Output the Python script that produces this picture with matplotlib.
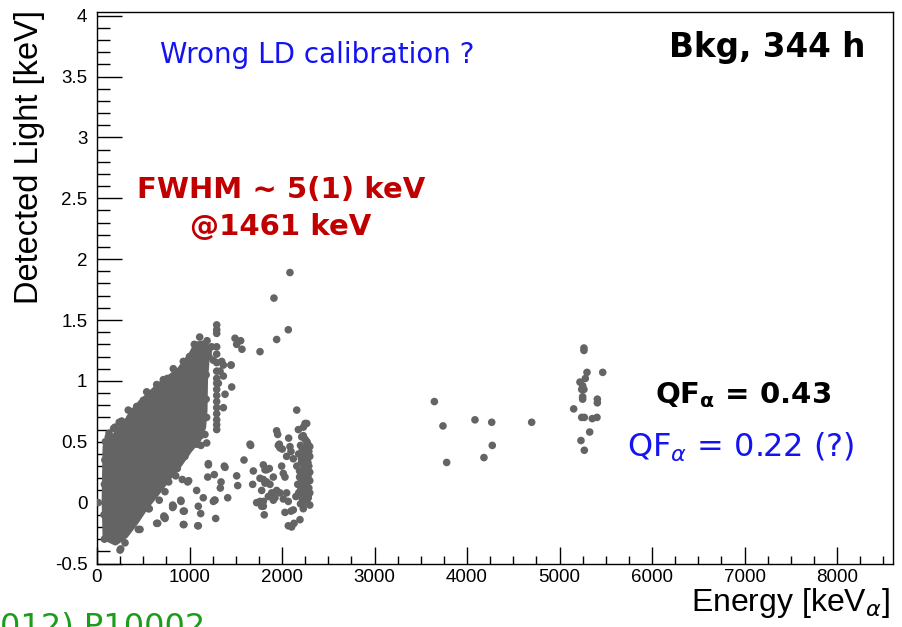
import numpy as np
import matplotlib
matplotlib.use("Agg")
import matplotlib.pyplot as plt
from matplotlib.ticker import MultipleLocator

# Диапазоны осей
X_RANGE = (0, 8605)
Y_RANGE = (-0.5, 4.03)
X_TICKS = [0, 1000, 2000, 3000, 4000, 5000, 6000, 7000, 8000]
Y_TICKS = [-0.5, 0, 0.5, 1, 1.5, 2, 2.5, 3, 3.5, 4]
Y_TICKLABELS = ["-0.5", "0", "0.5", "1", "1.5", "2", "2.5", "3", "3.5", "4"]

# Контур плотной области (beta/gamma), keV
blob_energy = [90, 80, 90, 170, 310, 470, 680, 890, 1020, 1075, 1150, 1200, 1185,
               1170, 1165, 1150, 1100, 1000, 890, 770, 630, 525, 420, 310, 200]
blob_light = [-0.29, 0.02, 0.46, 0.53, 0.66, 0.82, 0.97, 1.09, 1.22, 1.30, 1.31, 1.27, 1.15,
              1.00, 0.76, 0.62, 0.52, 0.43, 0.31, 0.20, 0.06, -0.04, -0.16, -0.27, -0.33]

# Отдельные события: край плотной области
edge_energy = [933, 1052, 1059, 1167, 1240, 1204, 825, 717, 645, 537, 501, 429, 338, 357,
               267, 195, 122, 994, 249, 303, 141, 447, 357, 555, 645, 735, 735, 825, 908,
               933, 933, 1089, 1077, 1149, 1268, 1283, 1204, 1197, 1268, 1341, 1333, 1376,
               843, 851, 922, 980, 753, 735, 951, 1059, 1124, 1167, 1186, 537, 14, 256,
               465, 656, 724, 724, 818, 818, 905, 940, 944, 1095, 1095, 1121, 565, 673,
               775, 868, 746, 775, 991, 1413, 1258, 1276,
               80, 75, 80, 85, 90, 130, 180, 240, 390, 600, 760, 1000, 1110, 1190, 1210,
               1180, 1180, 1185, 1120, 1080]
edge_light = [1.16, 1.30, 1.25, 1.29, 1.28, 1.24, 1.10, 1.01, 0.97, 0.91, 0.84, 0.79, 0.76, 0.70,
              0.67, 0.62, 0.54, 1.12, -0.39, -0.33, -0.29, -0.22, -0.14, -0.05, -0.17, -0.12, -0.13,
              -0.03, 0.01, -0.07, -0.18, -0.19, 0.10, 0.04, 0.02, -0.13, 0.32, 0.21, 0.23, 0.17,
              0.12, 0.30, 0.28, 0.22, 0.19, 0.17, 0.19, 0.09, 0.38, 0.54, 0.47, 0.56, 0.49, -0.02,
              0.00, -0.38, -0.22, -0.17, -0.11, -0.12, -0.02, -0.04, 0.02, -0.18, -0.07, -0.03,
              -0.19, -0.09, -0.05, 0.02, 0.27, 0.28, 0.21, 0.17, 0.18, 0.04, 0.01, 0.02,
              -0.30, -0.10, 0.15, 0.35, 0.50, 0.57, 0.61, 0.66, 0.75, 0.88, 1.02, 1.20, 1.36,
              1.33, 1.20, 1.05, 0.85, 0.70, 0.55, 0.48]

# Линия 1461 keV и точки вокруг неё
k40_energy = [1294, 1294, 1294, 1294, 1294, 1294, 1294, 1294, 1294, 1294, 1294, 1294, 1294,
              1294, 1294, 1294, 1294, 1257, 1348, 1366, 1449, 1330, 1366, 1312, 1456, 1384,
              1366, 1492, 1553, 1510, 1567, 1762, 1913, 2086, 2068, 1942, 1654, 1589, 1204,
              1384, 1449]
k40_light = [1.46, 1.42, 1.39, 1.28, 1.22, 1.15, 1.08, 1.02, 0.98, 0.93, 0.88, 0.83, 0.78,
             0.73, 0.68, 0.64, 0.60, 1.17, 1.16, 1.13, 1.13, 1.08, 1.04, 0.98, 0.95, 0.89,
             0.78, 1.35, 1.33, 1.30, 1.26, 1.24, 1.68, 1.89, 1.42, 1.34, 0.48, 0.35, 0.31,
             0.29, 1.13]

# Группа 1700-2300 keV
mid_energy = [2159, 2267, 2231, 2177, 2213, 1953, 2072, 1661, 1971, 2003, 2086, 2097, 1798,
              1816, 1863, 1906, 1798, 1870, 1780, 1996, 2014, 2032, 1888, 1924, 1978, 2050,
              2068, 1726, 1798, 1780, 2032, 1808, 2097, 2122, 2194, 2068, 2104, 2130, 1942,
              2249, 1960, 1978, 2050, 2122, 1834, 1762, 1834, 1816, 1942, 1852, 2014, 1762,
              1798, 1906, 2284, 1510, 1521, 1690, 1683,
              2230, 2270, 2200, 2250, 2290, 2180, 2230, 2270, 2210, 2290, 2250, 2190, 2230,
              2280, 2210, 2260, 2240, 2290, 2200, 2250, 2280, 2220, 2260, 2300, 2230, 2170,
              2160, 2300, 2300, 2150, 2270, 2220, 2240,
              2250, 2280, 2240, 2270, 2250, 2280, 2240, 2270, 2250, 2280, 2240, 2270, 2250,
              2280, 2240, 2270, 2300, 2300, 2300, 2210, 2210, 2190, 2180, 2200]
mid_light = [0.76, 0.65, 0.62, 0.60, 0.54, 0.56, 0.53, 0.47, 0.48, 0.44, 0.46, 0.42, 0.31,
             0.27, 0.28, 0.21, 0.19, 0.15, 0.10, 0.30, 0.24, 0.21, 0.08, 0.04, 0.08, 0.08,
             0.01, 0.00, 0.01, -0.03, -0.08, -0.10, -0.07, -0.06, -0.14, -0.19, -0.20, -0.17,
             0.59, 0.65, 0.47, 0.45, 0.38, 0.36, 0.27, 0.20, 0.17, 0.16, 0.10, 0.05, 0.03,
             0.01, -0.03, 0.02, 0.04, 0.22, 0.14, 0.26, 0.15,
             0.55, 0.50, 0.47, 0.45, 0.42, 0.40, 0.38, 0.36, 0.33, 0.30, 0.28, 0.26, 0.24,
             0.22, 0.19, 0.17, 0.14, 0.12, 0.10, 0.08, 0.05, 0.03, 0.00, -0.02, -0.05, 0.15,
             0.30, 0.25, 0.38, 0.05, 0.30, 0.44, 0.20,
             0.52, 0.48, 0.41, 0.39, 0.35, 0.33, 0.29, 0.27, 0.23, 0.20, 0.17, 0.13, 0.11,
             0.09, 0.06, 0.02, 0.18, 0.08, 0.46, 0.12, 0.36, 0.21, 0.08, -0.01]

# Альфа-события
alpha_energy = [3647, 3740, 3780, 4086, 4267, 4273, 4183, 4699, 5264, 5264, 5297, 5467,
                5221, 5279, 5250, 5264, 5240, 5250, 5250, 5409, 5409, 5153, 5240, 5268,
                5354, 5405, 5326, 5232, 5268]
alpha_light = [0.83, 0.63, 0.33, 0.68, 0.66, 0.47, 0.37, 0.66, 1.27, 1.25, 1.07, 1.07,
               0.99, 1.02, 0.96, 0.93, 0.93, 0.87, 0.85, 0.85, 0.82, 0.77, 0.70, 0.70,
               0.69, 0.70, 0.58, 0.51, 0.43]

GRAY = "#646464"
BLUE = "#1414f0"


def main():
    fig = plt.figure(figsize=(9.03, 6.27), dpi=100)
    ax = fig.add_axes([97 / 903, 1 - 563.5 / 627, 796 / 903, 551.5 / 627])

    ax.fill(blob_energy, blob_light, facecolor=GRAY, edgecolor=GRAY, lw=4,
            joinstyle="round", zorder=2)
    for ex, ly in [(edge_energy, edge_light), (k40_energy, k40_light),
                   (mid_energy, mid_light), (alpha_energy, alpha_light)]:
        ax.scatter(ex, ly, s=30, color=GRAY, edgecolors="none", zorder=3)

    ax.set_xlim(*X_RANGE)
    ax.set_ylim(*Y_RANGE)
    ax.set_xticks(X_TICKS)
    ax.set_yticks(Y_TICKS)
    ax.set_yticklabels(Y_TICKLABELS)
    ax.xaxis.set_minor_locator(MultipleLocator(250))
    ax.yaxis.set_minor_locator(MultipleLocator(0.1))
    ax.tick_params(axis="both", which="both", direction="in", labelsize=13.5, width=1,
                   top=False, right=False)
    ax.tick_params(axis="y", which="major", length=18, pad=7)
    ax.tick_params(axis="y", which="minor", length=9)
    ax.tick_params(axis="x", which="major", length=12.5, pad=4)
    ax.tick_params(axis="x", which="minor", length=6)
    for lab in ax.get_xticklabels() + ax.get_yticklabels():
        lab.set_family("Liberation Sans")
    for sp in ax.spines.values():
        sp.set_linewidth(1)

    # подписи осей в стиле ROOT
    fig.text(30 / 903, 1 - 10 / 627, "Detected Light [keV]", rotation=90, ha="center",
             va="top", fontsize=23.5, family="Liberation Sans")
    fig.text(890 / 903, 1 - 603 / 627, r"Energy [keV$_{\alpha}$]", ha="right", va="center",
             fontsize=23, family="Liberation Sans")

    fig.text(160 / 903, 1 - 55 / 627, "Wrong LD calibration ?", color=BLUE,
             fontsize=20, va="center", ha="left")
    fig.text(865 / 903, 1 - 47 / 627, "Bkg, 344 h", color="black", fontsize=23.5,
             fontweight="bold", va="center", ha="right")
    fig.text(281 / 903, 1 - 190 / 627, "FWHM ~ 5(1) keV", color="#c00000", fontsize=21,
             fontweight="bold", va="center", ha="center")
    fig.text(281 / 903, 1 - 227 / 627, "@1461 keV", color="#c00000", fontsize=21,
             fontweight="bold", va="center", ha="center")
    fig.text(655 / 903, 1 - 395 / 627, r"QF$_{\mathbf{\alpha}}$ = 0.43", color="black",
             fontsize=21, fontweight="bold", va="center", ha="left")
    fig.text(627 / 903, 1 - 447 / 627, r"QF$_{\alpha}$ = 0.22 (?)", color=BLUE,
             fontsize=23, va="center", ha="left")
    fig.text(0, 1 - 611 / 627, "012) P10002", color="#1a9e1a", fontsize=23,
             va="top", ha="left")

    fig.savefig("out.png", dpi=100)
    plt.close(fig)


if __name__ == "__main__":
    main()
